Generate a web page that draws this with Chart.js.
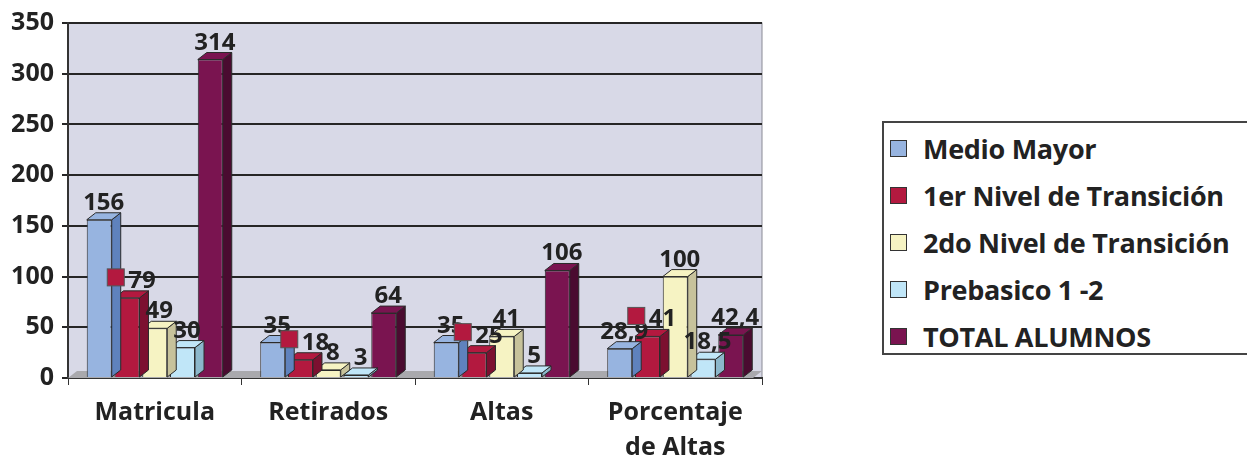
<!DOCTYPE html>
<html>
<head>
<meta charset="utf-8">
<script src="https://cdn.jsdelivr.net/npm/chart.js@4.4.0/dist/chart.umd.min.js"></script>
<style>
  body { margin: 0; background: #fff; width: 1247px; height: 468px; overflow: hidden; position: relative; font-family: "Open Sans", sans-serif; }
  #wrap { position: absolute; left: 0; top: 0; width: 800px; height: 468px; }
  #legend { position: absolute; left: 882px; top: 121px; width: 380px; height: 234px; border: 2px solid #444; box-sizing: border-box; padding-top: 2px; }
  .item { display: flex; align-items: center; height: 47px; font-weight: 700; font-size: 27px; color: #222; letter-spacing: -0.3px; }
  .box { width: 15px; height: 15px; border: 1.5px solid #333; margin-left: 6px; margin-right: 16px; }
</style>
</head>
<body>
<div id="wrap"><canvas id="chart"></canvas></div>
<div id="legend"></div>
<script>
const categories = ["Matricula", "Retirados", "Altas", ["Porcentaje", "de Altas"]];
const seriesNames = ["Medio Mayor", "1er Nivel de Transición", "2do Nivel de Transición", "Prebasico 1 -2", "TOTAL ALUMNOS"];
const medioMayor = [156, 35, 35, 28.9];
const primerNivel = [79, 18, 25, 41];
const segundoNivel = [49, 8, 41, 100];
const prebasico = [30, 3, 5, 18.5];
const totalAlumnos = [314, 64, 106, 42.4];
const yTicks = [0, 50, 100, 150, 200, 250, 300, 350];

const frontColors = ["#97b4e0", "#b3193f", "#f6f3c3", "#c0e6f8", "#7a1450"];
const sideColors = ["#5f82bd", "#7c1030", "#c7c29b", "#8bb7cb", "#4a0b30"];

const DX = 9, DY = 7;

function fmt(v) {
  return String(v).replace(".", ",");
}

const bars3d = {
  id: "bars3d",
  beforeDraw(chart) {
    const { ctx, chartArea: a } = chart;
    ctx.save();
    ctx.fillStyle = "#d8d9e7";
    ctx.fillRect(a.left, a.top, a.width, a.height);
    ctx.strokeStyle = "#8a8a95";
    ctx.lineWidth = 1;
    ctx.strokeRect(a.left, a.top, a.width, a.height);
    ctx.restore();
  },
  beforeDatasetsDraw(chart) {
    const { ctx, chartArea: a } = chart;
    ctx.save();
    ctx.fillStyle = "#a9a9ad";
    ctx.beginPath();
    ctx.moveTo(a.left, a.bottom);
    ctx.lineTo(a.right - DX, a.bottom);
    ctx.lineTo(a.right, a.bottom - DY);
    ctx.lineTo(a.left + DX, a.bottom - DY);
    ctx.closePath();
    ctx.fill();
    ctx.restore();
  },
  afterDatasetDraw(chart, args) {
    const { ctx } = chart;
    const i = args.index;
    ctx.save();
    ctx.strokeStyle = "#2b2b2b";
    ctx.lineWidth = 1;
    args.meta.data.forEach(el => {
      const { x, y, base, width } = el.getProps(["x", "y", "base", "width"], true);
      const l = x - width / 2, r = x + width / 2;
      ctx.fillStyle = sideColors[i];
      ctx.beginPath();
      ctx.moveTo(r, y);
      ctx.lineTo(r + DX, y - DY);
      ctx.lineTo(r + DX, base - DY);
      ctx.lineTo(r, base);
      ctx.closePath();
      ctx.fill();
      ctx.stroke();
      ctx.fillStyle = frontColors[i];
      ctx.beginPath();
      ctx.moveTo(l, y);
      ctx.lineTo(l + DX, y - DY);
      ctx.lineTo(r + DX, y - DY);
      ctx.lineTo(r, y);
      ctx.closePath();
      ctx.fill();
      ctx.stroke();
    });
    ctx.restore();
  },
  afterDatasetsDraw(chart) {
    const { ctx } = chart;
    ctx.save();
    ctx.font = "bold 24px 'Open Sans'";
    ctx.fillStyle = "#222";
    ctx.textBaseline = "alphabetic";
    chart.data.datasets.forEach((ds, i) => {
      chart.getDatasetMeta(i).data.forEach((el, j) => {
        const txt = fmt(ds.data[j]);
        const cx = el.x + DX / 2;
        const by = el.y - DY - 3;
        const tw = ctx.measureText(txt).width;
        if (i === 1) {
          const total = 17 + 4 + tw;
          const sx = cx - total / 2;
          ctx.fillStyle = frontColors[1];
          ctx.fillRect(sx, by - 19, 17, 17);
          ctx.strokeStyle = "#555";
          ctx.strokeRect(sx, by - 19, 17, 17);
          ctx.fillStyle = "#222";
          ctx.textAlign = "left";
          ctx.fillText(txt, sx + 21, by);
        } else {
          ctx.textAlign = "center";
          ctx.fillText(txt, cx, by);
        }
      });
    });
    ctx.restore();
  }
};

const seriesValues = [medioMayor, primerNivel, segundoNivel, prebasico, totalAlumnos];

new Chart(document.getElementById("chart"), {
  type: "bar",
  data: {
    labels: categories,
    datasets: seriesNames.map((name, i) => ({
      label: name,
      data: seriesValues[i],
      backgroundColor: frontColors[i],
      borderColor: "#2b2b2b",
      borderWidth: 1,
      categoryPercentage: 0.8,
      barPercentage: 0.9
    }))
  },
  options: {
    responsive: true,
    maintainAspectRatio: false,
    animation: false,
    layout: { padding: { top: 20, right: 38, left: 0, bottom: 0 } },
    plugins: {
      legend: { display: false },
      tooltip: { enabled: false }
    },
    scales: {
      x: {
        afterFit(scale) { scale.height = 90; },
        grid: { drawOnChartArea: false, drawTicks: true, tickLength: 7, color: "#333", offset: true },
        border: { display: true, color: "#333", width: 2 },
        ticks: {
          color: "#222",
          padding: 10,
          font: { family: "Open Sans", size: 25, weight: "bold", lineHeight: 1.42 }
        }
      },
      y: {
        min: 0,
        max: 350,
        afterFit(scale) { scale.width = 68; },
        afterBuildTicks(scale) { scale.ticks = yTicks.map(v => ({ value: v })); },
        grid: { color: "#262626", lineWidth: 2, tickLength: 6 },
        border: { display: true, color: "#333", width: 2 },
        ticks: {
          color: "#222",
          padding: 8,
          font: { family: "Open Sans", size: 25, weight: "bold" }
        }
      }
    }
  },
  plugins: [bars3d]
});

const legendEl = document.getElementById("legend");
seriesNames.forEach((name, i) => {
  const row = document.createElement("div");
  row.className = "item";
  const box = document.createElement("span");
  box.className = "box";
  box.style.background = frontColors[i];
  const label = document.createElement("span");
  label.textContent = name;
  row.appendChild(box);
  row.appendChild(label);
  legendEl.appendChild(row);
});
</script>
</body>
</html>
